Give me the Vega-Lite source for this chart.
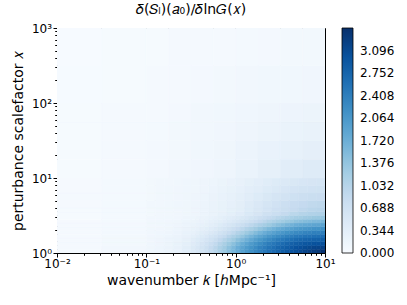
{
"$schema": "https://vega.github.io/schema/vega-lite/v6.json",
"width": 268, "height": 225,
"autosize": "none",
"padding": {"left": 57, "top": 28, "right": 82, "bottom": 52},
"config": {"view": {"stroke": "#000", "strokeWidth": 1}, "font": "DejaVu Sans"},
"title": {"text": "𝛿(𝑆ₗ)(𝑎₀)/𝛿ln𝐺(𝑥)", "fontSize": 14, "fontWeight": "normal", "font": "DejaVu Sans", "anchor": "middle", "offset": 5, "color": "#000"},
"data": {"values": [
{"k0":0.01,"k1":0.031623,"a0":1,"a1":1.122,"v":0.051},{"k0":0.031623,"k1":0.1,"a0":1,"a1":1.122,"v":0.096},{"k0":0.1,"k1":0.12589,"a0":1,"a1":1.122,"v":0.14},{"k0":0.12589,"k1":0.15849,"a0":1,"a1":1.122,"v":0.171},{"k0":0.15849,"k1":0.19953,"a0":1,"a1":1.122,"v":0.216},{"k0":0.19953,"k1":0.25119,"a0":1,"a1":1.122,"v":0.278},{"k0":0.25119,"k1":0.31623,"a0":1,"a1":1.122,"v":0.38},
{"k0":0.31623,"k1":0.35481,"a0":1,"a1":1.122,"v":0.48},{"k0":0.35481,"k1":0.39811,"a0":1,"a1":1.122,"v":0.56},{"k0":0.39811,"k1":0.44668,"a0":1,"a1":1.122,"v":0.65},{"k0":0.44668,"k1":0.50119,"a0":1,"a1":1.122,"v":0.76},{"k0":0.50119,"k1":0.56234,"a0":1,"a1":1.122,"v":0.89},{"k0":0.56234,"k1":0.63096,"a0":1,"a1":1.122,"v":1.01},{"k0":0.63096,"k1":0.70795,"a0":1,"a1":1.122,"v":1.16},{"k0":0.70795,"k1":0.79433,"a0":1,"a1":1.122,"v":1.31},{"k0":0.79433,"k1":0.89125,"a0":1,"a1":1.122,"v":1.47},{"k0":0.89125,"k1":1,"a0":1,"a1":1.122,"v":1.62},{"k0":1,"k1":1.122,"a0":1,"a1":1.122,"v":1.78},{"k0":1.122,"k1":1.2589,"a0":1,"a1":1.122,"v":1.92},{"k0":1.2589,"k1":1.4125,"a0":1,"a1":1.122,"v":2.05},{"k0":1.4125,"k1":1.5849,"a0":1,"a1":1.122,"v":2.18},{"k0":1.5849,"k1":1.7783,"a0":1,"a1":1.122,"v":2.29},{"k0":1.7783,"k1":1.9953,"a0":1,"a1":1.122,"v":2.39},{"k0":1.9953,"k1":2.2387,"a0":1,"a1":1.122,"v":2.49},{"k0":2.2387,"k1":2.5119,"a0":1,"a1":1.122,"v":2.58},{"k0":2.5119,"k1":2.8184,"a0":1,"a1":1.122,"v":2.67},{"k0":2.8184,"k1":3.1623,"a0":1,"a1":1.122,"v":2.75},{"k0":3.1623,"k1":3.5481,"a0":1,"a1":1.122,"v":2.84},{"k0":3.5481,"k1":3.9811,"a0":1,"a1":1.122,"v":2.90},{"k0":3.9811,"k1":4.4668,"a0":1,"a1":1.122,"v":2.98},{"k0":4.4668,"k1":5.0119,"a0":1,"a1":1.122,"v":3.04},{"k0":5.0119,"k1":5.6234,"a0":1,"a1":1.122,"v":3.10},{"k0":5.6234,"k1":6.3096,"a0":1,"a1":1.122,"v":3.17},{"k0":6.3096,"k1":7.0795,"a0":1,"a1":1.122,"v":3.23},{"k0":7.0795,"k1":7.9433,"a0":1,"a1":1.122,"v":3.28},{"k0":7.9433,"k1":8.9125,"a0":1,"a1":1.122,"v":3.34},{"k0":8.9125,"k1":10,"a0":1,"a1":1.122,"v":3.40},
{"k0":0.01,"k1":0.031623,"a0":1.122,"a1":1.2589,"v":0.051},{"k0":0.031623,"k1":0.1,"a0":1.122,"a1":1.2589,"v":0.095},{"k0":0.1,"k1":0.12589,"a0":1.122,"a1":1.2589,"v":0.14},{"k0":0.12589,"k1":0.15849,"a0":1.122,"a1":1.2589,"v":0.165},{"k0":0.15849,"k1":0.19953,"a0":1.122,"a1":1.2589,"v":0.209},{"k0":0.19953,"k1":0.25119,"a0":1.122,"a1":1.2589,"v":0.266},{"k0":0.25119,"k1":0.31623,"a0":1.122,"a1":1.2589,"v":0.356},
{"k0":0.31623,"k1":0.35481,"a0":1.122,"a1":1.2589,"v":0.46},{"k0":0.35481,"k1":0.39811,"a0":1.122,"a1":1.2589,"v":0.54},{"k0":0.39811,"k1":0.44668,"a0":1.122,"a1":1.2589,"v":0.62},{"k0":0.44668,"k1":0.50119,"a0":1.122,"a1":1.2589,"v":0.73},{"k0":0.50119,"k1":0.56234,"a0":1.122,"a1":1.2589,"v":0.85},{"k0":0.56234,"k1":0.63096,"a0":1.122,"a1":1.2589,"v":0.98},{"k0":0.63096,"k1":0.70795,"a0":1.122,"a1":1.2589,"v":1.12},{"k0":0.70795,"k1":0.79433,"a0":1.122,"a1":1.2589,"v":1.26},{"k0":0.79433,"k1":0.89125,"a0":1.122,"a1":1.2589,"v":1.42},{"k0":0.89125,"k1":1,"a0":1.122,"a1":1.2589,"v":1.57},{"k0":1,"k1":1.122,"a0":1.122,"a1":1.2589,"v":1.73},{"k0":1.122,"k1":1.2589,"a0":1.122,"a1":1.2589,"v":1.87},{"k0":1.2589,"k1":1.4125,"a0":1.122,"a1":1.2589,"v":2.00},{"k0":1.4125,"k1":1.5849,"a0":1.122,"a1":1.2589,"v":2.12},{"k0":1.5849,"k1":1.7783,"a0":1.122,"a1":1.2589,"v":2.23},{"k0":1.7783,"k1":1.9953,"a0":1.122,"a1":1.2589,"v":2.34},{"k0":1.9953,"k1":2.2387,"a0":1.122,"a1":1.2589,"v":2.44},{"k0":2.2387,"k1":2.5119,"a0":1.122,"a1":1.2589,"v":2.53},{"k0":2.5119,"k1":2.8184,"a0":1.122,"a1":1.2589,"v":2.61},{"k0":2.8184,"k1":3.1623,"a0":1.122,"a1":1.2589,"v":2.70},{"k0":3.1623,"k1":3.5481,"a0":1.122,"a1":1.2589,"v":2.78},{"k0":3.5481,"k1":3.9811,"a0":1.122,"a1":1.2589,"v":2.84},{"k0":3.9811,"k1":4.4668,"a0":1.122,"a1":1.2589,"v":2.91},{"k0":4.4668,"k1":5.0119,"a0":1.122,"a1":1.2589,"v":2.98},{"k0":5.0119,"k1":5.6234,"a0":1.122,"a1":1.2589,"v":3.03},{"k0":5.6234,"k1":6.3096,"a0":1.122,"a1":1.2589,"v":3.08},{"k0":6.3096,"k1":7.0795,"a0":1.122,"a1":1.2589,"v":3.12},{"k0":7.0795,"k1":7.9433,"a0":1.122,"a1":1.2589,"v":3.16},{"k0":7.9433,"k1":8.9125,"a0":1.122,"a1":1.2589,"v":3.18},{"k0":8.9125,"k1":10,"a0":1.122,"a1":1.2589,"v":3.20},
{"k0":0.01,"k1":0.031623,"a0":1.2589,"a1":1.4125,"v":0.05},{"k0":0.031623,"k1":0.1,"a0":1.2589,"a1":1.4125,"v":0.093},{"k0":0.1,"k1":0.12589,"a0":1.2589,"a1":1.4125,"v":0.132},{"k0":0.12589,"k1":0.15849,"a0":1.2589,"a1":1.4125,"v":0.158},{"k0":0.15849,"k1":0.19953,"a0":1.2589,"a1":1.4125,"v":0.197},{"k0":0.19953,"k1":0.25119,"a0":1.2589,"a1":1.4125,"v":0.252},{"k0":0.25119,"k1":0.31623,"a0":1.2589,"a1":1.4125,"v":0.328},
{"k0":0.31623,"k1":0.35481,"a0":1.2589,"a1":1.4125,"v":0.42},{"k0":0.35481,"k1":0.39811,"a0":1.2589,"a1":1.4125,"v":0.49},{"k0":0.39811,"k1":0.44668,"a0":1.2589,"a1":1.4125,"v":0.58},{"k0":0.44668,"k1":0.50119,"a0":1.2589,"a1":1.4125,"v":0.66},{"k0":0.50119,"k1":0.56234,"a0":1.2589,"a1":1.4125,"v":0.77},{"k0":0.56234,"k1":0.63096,"a0":1.2589,"a1":1.4125,"v":0.89},{"k0":0.63096,"k1":0.70795,"a0":1.2589,"a1":1.4125,"v":1.03},{"k0":0.70795,"k1":0.79433,"a0":1.2589,"a1":1.4125,"v":1.16},{"k0":0.79433,"k1":0.89125,"a0":1.2589,"a1":1.4125,"v":1.31},{"k0":0.89125,"k1":1,"a0":1.2589,"a1":1.4125,"v":1.45},{"k0":1,"k1":1.122,"a0":1.2589,"a1":1.4125,"v":1.60},{"k0":1.122,"k1":1.2589,"a0":1.2589,"a1":1.4125,"v":1.75},{"k0":1.2589,"k1":1.4125,"a0":1.2589,"a1":1.4125,"v":1.88},{"k0":1.4125,"k1":1.5849,"a0":1.2589,"a1":1.4125,"v":2.01},{"k0":1.5849,"k1":1.7783,"a0":1.2589,"a1":1.4125,"v":2.12},{"k0":1.7783,"k1":1.9953,"a0":1.2589,"a1":1.4125,"v":2.23},{"k0":1.9953,"k1":2.2387,"a0":1.2589,"a1":1.4125,"v":2.33},{"k0":2.2387,"k1":2.5119,"a0":1.2589,"a1":1.4125,"v":2.42},{"k0":2.5119,"k1":2.8184,"a0":1.2589,"a1":1.4125,"v":2.50},{"k0":2.8184,"k1":3.1623,"a0":1.2589,"a1":1.4125,"v":2.58},{"k0":3.1623,"k1":3.5481,"a0":1.2589,"a1":1.4125,"v":2.66},{"k0":3.5481,"k1":3.9811,"a0":1.2589,"a1":1.4125,"v":2.73},{"k0":3.9811,"k1":4.4668,"a0":1.2589,"a1":1.4125,"v":2.79},{"k0":4.4668,"k1":5.0119,"a0":1.2589,"a1":1.4125,"v":2.84},{"k0":5.0119,"k1":5.6234,"a0":1.2589,"a1":1.4125,"v":2.89},{"k0":5.6234,"k1":6.3096,"a0":1.2589,"a1":1.4125,"v":2.93},{"k0":6.3096,"k1":7.0795,"a0":1.2589,"a1":1.4125,"v":2.96},{"k0":7.0795,"k1":7.9433,"a0":1.2589,"a1":1.4125,"v":2.99},{"k0":7.9433,"k1":8.9125,"a0":1.2589,"a1":1.4125,"v":3.01},{"k0":8.9125,"k1":10,"a0":1.2589,"a1":1.4125,"v":3.02},
{"k0":0.01,"k1":0.031623,"a0":1.4125,"a1":1.5849,"v":0.049},{"k0":0.031623,"k1":0.1,"a0":1.4125,"a1":1.5849,"v":0.09},{"k0":0.1,"k1":0.12589,"a0":1.4125,"a1":1.5849,"v":0.127},{"k0":0.12589,"k1":0.15849,"a0":1.4125,"a1":1.5849,"v":0.148},{"k0":0.15849,"k1":0.19953,"a0":1.4125,"a1":1.5849,"v":0.183},{"k0":0.19953,"k1":0.25119,"a0":1.4125,"a1":1.5849,"v":0.227},{"k0":0.25119,"k1":0.31623,"a0":1.4125,"a1":1.5849,"v":0.296},
{"k0":0.31623,"k1":0.35481,"a0":1.4125,"a1":1.5849,"v":0.38},{"k0":0.35481,"k1":0.39811,"a0":1.4125,"a1":1.5849,"v":0.44},{"k0":0.39811,"k1":0.44668,"a0":1.4125,"a1":1.5849,"v":0.50},{"k0":0.44668,"k1":0.50119,"a0":1.4125,"a1":1.5849,"v":0.59},{"k0":0.50119,"k1":0.56234,"a0":1.4125,"a1":1.5849,"v":0.67},{"k0":0.56234,"k1":0.63096,"a0":1.4125,"a1":1.5849,"v":0.78},{"k0":0.63096,"k1":0.70795,"a0":1.4125,"a1":1.5849,"v":0.90},{"k0":0.70795,"k1":0.79433,"a0":1.4125,"a1":1.5849,"v":1.03},{"k0":0.79433,"k1":0.89125,"a0":1.4125,"a1":1.5849,"v":1.15},{"k0":0.89125,"k1":1,"a0":1.4125,"a1":1.5849,"v":1.28},{"k0":1,"k1":1.122,"a0":1.4125,"a1":1.5849,"v":1.43},{"k0":1.122,"k1":1.2589,"a0":1.4125,"a1":1.5849,"v":1.56},{"k0":1.2589,"k1":1.4125,"a0":1.4125,"a1":1.5849,"v":1.69},{"k0":1.4125,"k1":1.5849,"a0":1.4125,"a1":1.5849,"v":1.83},{"k0":1.5849,"k1":1.7783,"a0":1.4125,"a1":1.5849,"v":1.95},{"k0":1.7783,"k1":1.9953,"a0":1.4125,"a1":1.5849,"v":2.06},{"k0":1.9953,"k1":2.2387,"a0":1.4125,"a1":1.5849,"v":2.17},{"k0":2.2387,"k1":2.5119,"a0":1.4125,"a1":1.5849,"v":2.25},{"k0":2.5119,"k1":2.8184,"a0":1.4125,"a1":1.5849,"v":2.34},{"k0":2.8184,"k1":3.1623,"a0":1.4125,"a1":1.5849,"v":2.42},{"k0":3.1623,"k1":3.5481,"a0":1.4125,"a1":1.5849,"v":2.49},{"k0":3.5481,"k1":3.9811,"a0":1.4125,"a1":1.5849,"v":2.55},{"k0":3.9811,"k1":4.4668,"a0":1.4125,"a1":1.5849,"v":2.61},{"k0":4.4668,"k1":5.0119,"a0":1.4125,"a1":1.5849,"v":2.66},{"k0":5.0119,"k1":5.6234,"a0":1.4125,"a1":1.5849,"v":2.71},{"k0":5.6234,"k1":6.3096,"a0":1.4125,"a1":1.5849,"v":2.74},{"k0":6.3096,"k1":7.0795,"a0":1.4125,"a1":1.5849,"v":2.77},{"k0":7.0795,"k1":7.9433,"a0":1.4125,"a1":1.5849,"v":2.79},{"k0":7.9433,"k1":8.9125,"a0":1.4125,"a1":1.5849,"v":2.80},{"k0":8.9125,"k1":10,"a0":1.4125,"a1":1.5849,"v":2.82},
{"k0":0.01,"k1":0.031623,"a0":1.5849,"a1":1.7783,"v":0.048},{"k0":0.031623,"k1":0.1,"a0":1.5849,"a1":1.7783,"v":0.086},{"k0":0.1,"k1":0.12589,"a0":1.5849,"a1":1.7783,"v":0.122},{"k0":0.12589,"k1":0.15849,"a0":1.5849,"a1":1.7783,"v":0.14},{"k0":0.15849,"k1":0.19953,"a0":1.5849,"a1":1.7783,"v":0.17},{"k0":0.19953,"k1":0.25119,"a0":1.5849,"a1":1.7783,"v":0.209},{"k0":0.25119,"k1":0.31623,"a0":1.5849,"a1":1.7783,"v":0.265},
{"k0":0.31623,"k1":0.35481,"a0":1.5849,"a1":1.7783,"v":0.32},{"k0":0.35481,"k1":0.39811,"a0":1.5849,"a1":1.7783,"v":0.37},{"k0":0.39811,"k1":0.44668,"a0":1.5849,"a1":1.7783,"v":0.44},{"k0":0.44668,"k1":0.50119,"a0":1.5849,"a1":1.7783,"v":0.50},{"k0":0.50119,"k1":0.56234,"a0":1.5849,"a1":1.7783,"v":0.59},{"k0":0.56234,"k1":0.63096,"a0":1.5849,"a1":1.7783,"v":0.67},{"k0":0.63096,"k1":0.70795,"a0":1.5849,"a1":1.7783,"v":0.77},{"k0":0.70795,"k1":0.79433,"a0":1.5849,"a1":1.7783,"v":0.87},{"k0":0.79433,"k1":0.89125,"a0":1.5849,"a1":1.7783,"v":1.00},{"k0":0.89125,"k1":1,"a0":1.5849,"a1":1.7783,"v":1.13},{"k0":1,"k1":1.122,"a0":1.5849,"a1":1.7783,"v":1.24},{"k0":1.122,"k1":1.2589,"a0":1.5849,"a1":1.7783,"v":1.37},{"k0":1.2589,"k1":1.4125,"a0":1.5849,"a1":1.7783,"v":1.50},{"k0":1.4125,"k1":1.5849,"a0":1.5849,"a1":1.7783,"v":1.63},{"k0":1.5849,"k1":1.7783,"a0":1.5849,"a1":1.7783,"v":1.75},{"k0":1.7783,"k1":1.9953,"a0":1.5849,"a1":1.7783,"v":1.86},{"k0":1.9953,"k1":2.2387,"a0":1.5849,"a1":1.7783,"v":1.97},{"k0":2.2387,"k1":2.5119,"a0":1.5849,"a1":1.7783,"v":2.07},{"k0":2.5119,"k1":2.8184,"a0":1.5849,"a1":1.7783,"v":2.16},{"k0":2.8184,"k1":3.1623,"a0":1.5849,"a1":1.7783,"v":2.23},{"k0":3.1623,"k1":3.5481,"a0":1.5849,"a1":1.7783,"v":2.30},{"k0":3.5481,"k1":3.9811,"a0":1.5849,"a1":1.7783,"v":2.37},{"k0":3.9811,"k1":4.4668,"a0":1.5849,"a1":1.7783,"v":2.42},{"k0":4.4668,"k1":5.0119,"a0":1.5849,"a1":1.7783,"v":2.47},{"k0":5.0119,"k1":5.6234,"a0":1.5849,"a1":1.7783,"v":2.51},{"k0":5.6234,"k1":6.3096,"a0":1.5849,"a1":1.7783,"v":2.55},{"k0":6.3096,"k1":7.0795,"a0":1.5849,"a1":1.7783,"v":2.57},{"k0":7.0795,"k1":7.9433,"a0":1.5849,"a1":1.7783,"v":2.59},{"k0":7.9433,"k1":8.9125,"a0":1.5849,"a1":1.7783,"v":2.61},{"k0":8.9125,"k1":10,"a0":1.5849,"a1":1.7783,"v":2.63},
{"k0":0.01,"k1":0.031623,"a0":1.7783,"a1":1.9953,"v":0.046},{"k0":0.031623,"k1":0.1,"a0":1.7783,"a1":1.9953,"v":0.08},{"k0":0.1,"k1":0.12589,"a0":1.7783,"a1":1.9953,"v":0.117},{"k0":0.12589,"k1":0.15849,"a0":1.7783,"a1":1.9953,"v":0.13},{"k0":0.15849,"k1":0.19953,"a0":1.7783,"a1":1.9953,"v":0.154},{"k0":0.19953,"k1":0.25119,"a0":1.7783,"a1":1.9953,"v":0.188},{"k0":0.25119,"k1":0.31623,"a0":1.7783,"a1":1.9953,"v":0.234},
{"k0":0.31623,"k1":0.35481,"a0":1.7783,"a1":1.9953,"v":0.28},{"k0":0.35481,"k1":0.39811,"a0":1.7783,"a1":1.9953,"v":0.32},{"k0":0.39811,"k1":0.44668,"a0":1.7783,"a1":1.9953,"v":0.37},{"k0":0.44668,"k1":0.50119,"a0":1.7783,"a1":1.9953,"v":0.42},{"k0":0.50119,"k1":0.56234,"a0":1.7783,"a1":1.9953,"v":0.49},{"k0":0.56234,"k1":0.63096,"a0":1.7783,"a1":1.9953,"v":0.56},{"k0":0.63096,"k1":0.70795,"a0":1.7783,"a1":1.9953,"v":0.64},{"k0":0.70795,"k1":0.79433,"a0":1.7783,"a1":1.9953,"v":0.73},{"k0":0.79433,"k1":0.89125,"a0":1.7783,"a1":1.9953,"v":0.83},{"k0":0.89125,"k1":1,"a0":1.7783,"a1":1.9953,"v":0.93},{"k0":1,"k1":1.122,"a0":1.7783,"a1":1.9953,"v":1.05},{"k0":1.122,"k1":1.2589,"a0":1.7783,"a1":1.9953,"v":1.16},{"k0":1.2589,"k1":1.4125,"a0":1.7783,"a1":1.9953,"v":1.28},{"k0":1.4125,"k1":1.5849,"a0":1.7783,"a1":1.9953,"v":1.39},{"k0":1.5849,"k1":1.7783,"a0":1.7783,"a1":1.9953,"v":1.51},{"k0":1.7783,"k1":1.9953,"a0":1.7783,"a1":1.9953,"v":1.62},{"k0":1.9953,"k1":2.2387,"a0":1.7783,"a1":1.9953,"v":1.73},{"k0":2.2387,"k1":2.5119,"a0":1.7783,"a1":1.9953,"v":1.82},{"k0":2.5119,"k1":2.8184,"a0":1.7783,"a1":1.9953,"v":1.92},{"k0":2.8184,"k1":3.1623,"a0":1.7783,"a1":1.9953,"v":2.00},{"k0":3.1623,"k1":3.5481,"a0":1.7783,"a1":1.9953,"v":2.07},{"k0":3.5481,"k1":3.9811,"a0":1.7783,"a1":1.9953,"v":2.14},{"k0":3.9811,"k1":4.4668,"a0":1.7783,"a1":1.9953,"v":2.19},{"k0":4.4668,"k1":5.0119,"a0":1.7783,"a1":1.9953,"v":2.24},{"k0":5.0119,"k1":5.6234,"a0":1.7783,"a1":1.9953,"v":2.28},{"k0":5.6234,"k1":6.3096,"a0":1.7783,"a1":1.9953,"v":2.32},{"k0":6.3096,"k1":7.0795,"a0":1.7783,"a1":1.9953,"v":2.35},{"k0":7.0795,"k1":7.9433,"a0":1.7783,"a1":1.9953,"v":2.38},{"k0":7.9433,"k1":8.9125,"a0":1.7783,"a1":1.9953,"v":2.38},{"k0":8.9125,"k1":10,"a0":1.7783,"a1":1.9953,"v":2.40},
{"k0":0.01,"k1":0.031623,"a0":1.9953,"a1":2.2387,"v":0.045},{"k0":0.031623,"k1":0.1,"a0":1.9953,"a1":2.2387,"v":0.077},{"k0":0.1,"k1":0.12589,"a0":1.9953,"a1":2.2387,"v":0.112},{"k0":0.12589,"k1":0.15849,"a0":1.9953,"a1":2.2387,"v":0.124},{"k0":0.15849,"k1":0.19953,"a0":1.9953,"a1":2.2387,"v":0.14},{"k0":0.19953,"k1":0.25119,"a0":1.9953,"a1":2.2387,"v":0.171},{"k0":0.25119,"k1":0.31623,"a0":1.9953,"a1":2.2387,"v":0.209},
{"k0":0.31623,"k1":0.35481,"a0":1.9953,"a1":2.2387,"v":0.25},{"k0":0.35481,"k1":0.39811,"a0":1.9953,"a1":2.2387,"v":0.28},{"k0":0.39811,"k1":0.44668,"a0":1.9953,"a1":2.2387,"v":0.31},{"k0":0.44668,"k1":0.50119,"a0":1.9953,"a1":2.2387,"v":0.355},{"k0":0.50119,"k1":0.56234,"a0":1.9953,"a1":2.2387,"v":0.40},{"k0":0.56234,"k1":0.63096,"a0":1.9953,"a1":2.2387,"v":0.46},{"k0":0.63096,"k1":0.70795,"a0":1.9953,"a1":2.2387,"v":0.52},{"k0":0.70795,"k1":0.79433,"a0":1.9953,"a1":2.2387,"v":0.59},{"k0":0.79433,"k1":0.89125,"a0":1.9953,"a1":2.2387,"v":0.68},{"k0":0.89125,"k1":1,"a0":1.9953,"a1":2.2387,"v":0.77},{"k0":1,"k1":1.122,"a0":1.9953,"a1":2.2387,"v":0.86},{"k0":1.122,"k1":1.2589,"a0":1.9953,"a1":2.2387,"v":0.96},{"k0":1.2589,"k1":1.4125,"a0":1.9953,"a1":2.2387,"v":1.06},{"k0":1.4125,"k1":1.5849,"a0":1.9953,"a1":2.2387,"v":1.16},{"k0":1.5849,"k1":1.7783,"a0":1.9953,"a1":2.2387,"v":1.26},{"k0":1.7783,"k1":1.9953,"a0":1.9953,"a1":2.2387,"v":1.37},{"k0":1.9953,"k1":2.2387,"a0":1.9953,"a1":2.2387,"v":1.47},{"k0":2.2387,"k1":2.5119,"a0":1.9953,"a1":2.2387,"v":1.57},{"k0":2.5119,"k1":2.8184,"a0":1.9953,"a1":2.2387,"v":1.66},{"k0":2.8184,"k1":3.1623,"a0":1.9953,"a1":2.2387,"v":1.74},{"k0":3.1623,"k1":3.5481,"a0":1.9953,"a1":2.2387,"v":1.81},{"k0":3.5481,"k1":3.9811,"a0":1.9953,"a1":2.2387,"v":1.88},{"k0":3.9811,"k1":4.4668,"a0":1.9953,"a1":2.2387,"v":1.94},{"k0":4.4668,"k1":5.0119,"a0":1.9953,"a1":2.2387,"v":1.99},{"k0":5.0119,"k1":5.6234,"a0":1.9953,"a1":2.2387,"v":2.04},{"k0":5.6234,"k1":6.3096,"a0":1.9953,"a1":2.2387,"v":2.07},{"k0":6.3096,"k1":7.0795,"a0":1.9953,"a1":2.2387,"v":2.10},{"k0":7.0795,"k1":7.9433,"a0":1.9953,"a1":2.2387,"v":2.13},{"k0":7.9433,"k1":8.9125,"a0":1.9953,"a1":2.2387,"v":2.14},{"k0":8.9125,"k1":10,"a0":1.9953,"a1":2.2387,"v":2.16},
{"k0":0.01,"k1":0.031623,"a0":2.2387,"a1":2.5119,"v":0.044},{"k0":0.031623,"k1":0.1,"a0":2.2387,"a1":2.5119,"v":0.072},{"k0":0.1,"k1":0.12589,"a0":2.2387,"a1":2.5119,"v":0.108},{"k0":0.12589,"k1":0.15849,"a0":2.2387,"a1":2.5119,"v":0.118},{"k0":0.15849,"k1":0.19953,"a0":2.2387,"a1":2.5119,"v":0.132},{"k0":0.19953,"k1":0.25119,"a0":2.2387,"a1":2.5119,"v":0.153},{"k0":0.25119,"k1":0.31623,"a0":2.2387,"a1":2.5119,"v":0.186},
{"k0":0.31623,"k1":0.35481,"a0":2.2387,"a1":2.5119,"v":0.22},{"k0":0.35481,"k1":0.39811,"a0":2.2387,"a1":2.5119,"v":0.24},{"k0":0.39811,"k1":0.44668,"a0":2.2387,"a1":2.5119,"v":0.27},{"k0":0.44668,"k1":0.50119,"a0":2.2387,"a1":2.5119,"v":0.30},{"k0":0.50119,"k1":0.56234,"a0":2.2387,"a1":2.5119,"v":0.34},{"k0":0.56234,"k1":0.63096,"a0":2.2387,"a1":2.5119,"v":0.38},{"k0":0.63096,"k1":0.70795,"a0":2.2387,"a1":2.5119,"v":0.44},{"k0":0.70795,"k1":0.79433,"a0":2.2387,"a1":2.5119,"v":0.50},{"k0":0.79433,"k1":0.89125,"a0":2.2387,"a1":2.5119,"v":0.56},{"k0":0.89125,"k1":1,"a0":2.2387,"a1":2.5119,"v":0.62},{"k0":1,"k1":1.122,"a0":2.2387,"a1":2.5119,"v":0.71},{"k0":1.122,"k1":1.2589,"a0":2.2387,"a1":2.5119,"v":0.79},{"k0":1.2589,"k1":1.4125,"a0":2.2387,"a1":2.5119,"v":0.87},{"k0":1.4125,"k1":1.5849,"a0":2.2387,"a1":2.5119,"v":0.96},{"k0":1.5849,"k1":1.7783,"a0":2.2387,"a1":2.5119,"v":1.04},{"k0":1.7783,"k1":1.9953,"a0":2.2387,"a1":2.5119,"v":1.13},{"k0":1.9953,"k1":2.2387,"a0":2.2387,"a1":2.5119,"v":1.21},{"k0":2.2387,"k1":2.5119,"a0":2.2387,"a1":2.5119,"v":1.29},{"k0":2.5119,"k1":2.8184,"a0":2.2387,"a1":2.5119,"v":1.38},{"k0":2.8184,"k1":3.1623,"a0":2.2387,"a1":2.5119,"v":1.46},{"k0":3.1623,"k1":3.5481,"a0":2.2387,"a1":2.5119,"v":1.54},{"k0":3.5481,"k1":3.9811,"a0":2.2387,"a1":2.5119,"v":1.61},{"k0":3.9811,"k1":4.4668,"a0":2.2387,"a1":2.5119,"v":1.67},{"k0":4.4668,"k1":5.0119,"a0":2.2387,"a1":2.5119,"v":1.73},{"k0":5.0119,"k1":5.6234,"a0":2.2387,"a1":2.5119,"v":1.78},{"k0":5.6234,"k1":6.3096,"a0":2.2387,"a1":2.5119,"v":1.81},{"k0":6.3096,"k1":7.0795,"a0":2.2387,"a1":2.5119,"v":1.84},{"k0":7.0795,"k1":7.9433,"a0":2.2387,"a1":2.5119,"v":1.86},{"k0":7.9433,"k1":8.9125,"a0":2.2387,"a1":2.5119,"v":1.87},{"k0":8.9125,"k1":10,"a0":2.2387,"a1":2.5119,"v":1.89},
{"k0":0.01,"k1":0.031623,"a0":2.5119,"a1":2.8184,"v":0.041},{"k0":0.031623,"k1":0.1,"a0":2.5119,"a1":2.8184,"v":0.067},{"k0":0.1,"k1":0.12589,"a0":2.5119,"a1":2.8184,"v":0.101},{"k0":0.12589,"k1":0.15849,"a0":2.5119,"a1":2.8184,"v":0.113},{"k0":0.15849,"k1":0.19953,"a0":2.5119,"a1":2.8184,"v":0.122},{"k0":0.19953,"k1":0.25119,"a0":2.5119,"a1":2.8184,"v":0.14},{"k0":0.25119,"k1":0.31623,"a0":2.5119,"a1":2.8184,"v":0.165},
{"k0":0.31623,"k1":0.35481,"a0":2.5119,"a1":2.8184,"v":0.19},{"k0":0.35481,"k1":0.39811,"a0":2.5119,"a1":2.8184,"v":0.21},{"k0":0.39811,"k1":0.44668,"a0":2.5119,"a1":2.8184,"v":0.23},{"k0":0.44668,"k1":0.50119,"a0":2.5119,"a1":2.8184,"v":0.255},{"k0":0.50119,"k1":0.56234,"a0":2.5119,"a1":2.8184,"v":0.29},{"k0":0.56234,"k1":0.63096,"a0":2.5119,"a1":2.8184,"v":0.32},{"k0":0.63096,"k1":0.70795,"a0":2.5119,"a1":2.8184,"v":0.36},{"k0":0.70795,"k1":0.79433,"a0":2.5119,"a1":2.8184,"v":0.40},{"k0":0.79433,"k1":0.89125,"a0":2.5119,"a1":2.8184,"v":0.45},{"k0":0.89125,"k1":1,"a0":2.5119,"a1":2.8184,"v":0.50},{"k0":1,"k1":1.122,"a0":2.5119,"a1":2.8184,"v":0.56},{"k0":1.122,"k1":1.2589,"a0":2.5119,"a1":2.8184,"v":0.62},{"k0":1.2589,"k1":1.4125,"a0":2.5119,"a1":2.8184,"v":0.68},{"k0":1.4125,"k1":1.5849,"a0":2.5119,"a1":2.8184,"v":0.76},{"k0":1.5849,"k1":1.7783,"a0":2.5119,"a1":2.8184,"v":0.83},{"k0":1.7783,"k1":1.9953,"a0":2.5119,"a1":2.8184,"v":0.90},{"k0":1.9953,"k1":2.2387,"a0":2.5119,"a1":2.8184,"v":0.98},{"k0":2.2387,"k1":2.5119,"a0":2.5119,"a1":2.8184,"v":1.06},{"k0":2.5119,"k1":2.8184,"a0":2.5119,"a1":2.8184,"v":1.14},{"k0":2.8184,"k1":3.1623,"a0":2.5119,"a1":2.8184,"v":1.20},{"k0":3.1623,"k1":3.5481,"a0":2.5119,"a1":2.8184,"v":1.26},{"k0":3.5481,"k1":3.9811,"a0":2.5119,"a1":2.8184,"v":1.32},{"k0":3.9811,"k1":4.4668,"a0":2.5119,"a1":2.8184,"v":1.37},{"k0":4.4668,"k1":5.0119,"a0":2.5119,"a1":2.8184,"v":1.43},{"k0":5.0119,"k1":5.6234,"a0":2.5119,"a1":2.8184,"v":1.47},{"k0":5.6234,"k1":6.3096,"a0":2.5119,"a1":2.8184,"v":1.51},{"k0":6.3096,"k1":7.0795,"a0":2.5119,"a1":2.8184,"v":1.54},{"k0":7.0795,"k1":7.9433,"a0":2.5119,"a1":2.8184,"v":1.57},{"k0":7.9433,"k1":8.9125,"a0":2.5119,"a1":2.8184,"v":1.58},{"k0":8.9125,"k1":10,"a0":2.5119,"a1":2.8184,"v":1.60},
{"k0":0.01,"k1":0.031623,"a0":2.8184,"a1":3.1623,"v":0.04},{"k0":0.031623,"k1":0.1,"a0":2.8184,"a1":3.1623,"v":0.064},{"k0":0.1,"k1":0.12589,"a0":2.8184,"a1":3.1623,"v":0.096},{"k0":0.12589,"k1":0.15849,"a0":2.8184,"a1":3.1623,"v":0.109},{"k0":0.15849,"k1":0.19953,"a0":2.8184,"a1":3.1623,"v":0.118},{"k0":0.19953,"k1":0.25119,"a0":2.8184,"a1":3.1623,"v":0.128},{"k0":0.25119,"k1":0.31623,"a0":2.8184,"a1":3.1623,"v":0.149},
{"k0":0.31623,"k1":0.35481,"a0":2.8184,"a1":3.1623,"v":0.17},{"k0":0.35481,"k1":0.39811,"a0":2.8184,"a1":3.1623,"v":0.19},{"k0":0.39811,"k1":0.44668,"a0":2.8184,"a1":3.1623,"v":0.205},{"k0":0.44668,"k1":0.50119,"a0":2.8184,"a1":3.1623,"v":0.22},{"k0":0.50119,"k1":0.56234,"a0":2.8184,"a1":3.1623,"v":0.24},{"k0":0.56234,"k1":0.63096,"a0":2.8184,"a1":3.1623,"v":0.27},{"k0":0.63096,"k1":0.70795,"a0":2.8184,"a1":3.1623,"v":0.305},{"k0":0.70795,"k1":0.79433,"a0":2.8184,"a1":3.1623,"v":0.34},{"k0":0.79433,"k1":0.89125,"a0":2.8184,"a1":3.1623,"v":0.37},{"k0":0.89125,"k1":1,"a0":2.8184,"a1":3.1623,"v":0.42},{"k0":1,"k1":1.122,"a0":2.8184,"a1":3.1623,"v":0.47},{"k0":1.122,"k1":1.2589,"a0":2.8184,"a1":3.1623,"v":0.52},{"k0":1.2589,"k1":1.4125,"a0":2.8184,"a1":3.1623,"v":0.56},{"k0":1.4125,"k1":1.5849,"a0":2.8184,"a1":3.1623,"v":0.62},{"k0":1.5849,"k1":1.7783,"a0":2.8184,"a1":3.1623,"v":0.68},{"k0":1.7783,"k1":1.9953,"a0":2.8184,"a1":3.1623,"v":0.74},{"k0":1.9953,"k1":2.2387,"a0":2.8184,"a1":3.1623,"v":0.80},{"k0":2.2387,"k1":2.5119,"a0":2.8184,"a1":3.1623,"v":0.86},{"k0":2.5119,"k1":2.8184,"a0":2.8184,"a1":3.1623,"v":0.92},{"k0":2.8184,"k1":3.1623,"a0":2.8184,"a1":3.1623,"v":0.98},{"k0":3.1623,"k1":3.5481,"a0":2.8184,"a1":3.1623,"v":1.04},{"k0":3.5481,"k1":3.9811,"a0":2.8184,"a1":3.1623,"v":1.09},{"k0":3.9811,"k1":4.4668,"a0":2.8184,"a1":3.1623,"v":1.15},{"k0":4.4668,"k1":5.0119,"a0":2.8184,"a1":3.1623,"v":1.19},{"k0":5.0119,"k1":5.6234,"a0":2.8184,"a1":3.1623,"v":1.22},{"k0":5.6234,"k1":6.3096,"a0":2.8184,"a1":3.1623,"v":1.26},{"k0":6.3096,"k1":7.0795,"a0":2.8184,"a1":3.1623,"v":1.28},{"k0":7.0795,"k1":7.9433,"a0":2.8184,"a1":3.1623,"v":1.31},{"k0":7.9433,"k1":8.9125,"a0":2.8184,"a1":3.1623,"v":1.32},{"k0":8.9125,"k1":10,"a0":2.8184,"a1":3.1623,"v":1.34},
{"k0":0.01,"k1":0.031623,"a0":3.1623,"a1":3.5481,"v":0.038},{"k0":0.031623,"k1":0.1,"a0":3.1623,"a1":3.5481,"v":0.061},{"k0":0.1,"k1":0.12589,"a0":3.1623,"a1":3.5481,"v":0.089},{"k0":0.12589,"k1":0.15849,"a0":3.1623,"a1":3.5481,"v":0.10},{"k0":0.15849,"k1":0.19953,"a0":3.1623,"a1":3.5481,"v":0.111},{"k0":0.19953,"k1":0.25119,"a0":3.1623,"a1":3.5481,"v":0.122},{"k0":0.25119,"k1":0.31623,"a0":3.1623,"a1":3.5481,"v":0.137},{"k0":0.31623,"k1":0.39811,"a0":3.1623,"a1":3.5481,"v":0.16},{"k0":0.39811,"k1":0.50119,"a0":3.1623,"a1":3.5481,"v":0.188},{"k0":0.50119,"k1":0.63096,"a0":3.1623,"a1":3.5481,"v":0.227},{"k0":0.63096,"k1":0.79433,"a0":3.1623,"a1":3.5481,"v":0.272},{"k0":0.79433,"k1":1,"a0":3.1623,"a1":3.5481,"v":0.328},{"k0":1,"k1":1.2589,"a0":3.1623,"a1":3.5481,"v":0.395},{"k0":1.2589,"k1":1.5849,"a0":3.1623,"a1":3.5481,"v":0.495},{"k0":1.5849,"k1":1.9953,"a0":3.1623,"a1":3.5481,"v":0.582},{"k0":1.9953,"k1":2.5119,"a0":3.1623,"a1":3.5481,"v":0.692},{"k0":2.5119,"k1":3.1623,"a0":3.1623,"a1":3.5481,"v":0.779},{"k0":3.1623,"k1":3.9811,"a0":3.1623,"a1":3.5481,"v":0.876},{"k0":3.9811,"k1":5.0119,"a0":3.1623,"a1":3.5481,"v":0.973},{"k0":5.0119,"k1":6.3096,"a0":3.1623,"a1":3.5481,"v":1.047},{"k0":6.3096,"k1":7.9433,"a0":3.1623,"a1":3.5481,"v":1.09},{"k0":7.9433,"k1":10,"a0":3.1623,"a1":3.5481,"v":1.11},
{"k0":0.01,"k1":0.031623,"a0":3.5481,"a1":3.9811,"v":0.04},{"k0":0.031623,"k1":0.1,"a0":3.5481,"a1":3.9811,"v":0.062},{"k0":0.1,"k1":0.12589,"a0":3.5481,"a1":3.9811,"v":0.09},{"k0":0.12589,"k1":0.15849,"a0":3.5481,"a1":3.9811,"v":0.101},{"k0":0.15849,"k1":0.19953,"a0":3.5481,"a1":3.9811,"v":0.112},{"k0":0.19953,"k1":0.25119,"a0":3.5481,"a1":3.9811,"v":0.123},{"k0":0.25119,"k1":0.31623,"a0":3.5481,"a1":3.9811,"v":0.135},{"k0":0.31623,"k1":0.39811,"a0":3.5481,"a1":3.9811,"v":0.155},{"k0":0.39811,"k1":0.50119,"a0":3.5481,"a1":3.9811,"v":0.182},{"k0":0.50119,"k1":0.63096,"a0":3.5481,"a1":3.9811,"v":0.216},{"k0":0.63096,"k1":0.79433,"a0":3.5481,"a1":3.9811,"v":0.25},{"k0":0.79433,"k1":1,"a0":3.5481,"a1":3.9811,"v":0.306},{"k0":1,"k1":1.2589,"a0":3.5481,"a1":3.9811,"v":0.362},{"k0":1.2589,"k1":1.5849,"a0":3.5481,"a1":3.9811,"v":0.44},{"k0":1.5849,"k1":1.9953,"a0":3.5481,"a1":3.9811,"v":0.528},{"k0":1.9953,"k1":2.5119,"a0":3.5481,"a1":3.9811,"v":0.616},{"k0":2.5119,"k1":3.1623,"a0":3.5481,"a1":3.9811,"v":0.714},{"k0":3.1623,"k1":3.9811,"a0":3.5481,"a1":3.9811,"v":0.79},{"k0":3.9811,"k1":5.0119,"a0":3.5481,"a1":3.9811,"v":0.865},{"k0":5.0119,"k1":6.3096,"a0":3.5481,"a1":3.9811,"v":0.929},{"k0":6.3096,"k1":7.9433,"a0":3.5481,"a1":3.9811,"v":0.983},{"k0":7.9433,"k1":10,"a0":3.5481,"a1":3.9811,"v":1.004},
{"k0":0.01,"k1":0.031623,"a0":3.9811,"a1":5.0119,"v":0.043},{"k0":0.031623,"k1":0.1,"a0":3.9811,"a1":5.0119,"v":0.066},{"k0":0.1,"k1":0.12589,"a0":3.9811,"a1":5.0119,"v":0.095},{"k0":0.12589,"k1":0.15849,"a0":3.9811,"a1":5.0119,"v":0.107},{"k0":0.15849,"k1":0.19953,"a0":3.9811,"a1":5.0119,"v":0.119},{"k0":0.19953,"k1":0.25119,"a0":3.9811,"a1":5.0119,"v":0.13},{"k0":0.25119,"k1":0.31623,"a0":3.9811,"a1":5.0119,"v":0.14},{"k0":0.31623,"k1":0.39811,"a0":3.9811,"a1":5.0119,"v":0.157},{"k0":0.39811,"k1":0.50119,"a0":3.9811,"a1":5.0119,"v":0.185},{"k0":0.50119,"k1":0.63096,"a0":3.9811,"a1":5.0119,"v":0.216},{"k0":0.63096,"k1":0.79433,"a0":3.9811,"a1":5.0119,"v":0.255},{"k0":0.79433,"k1":1,"a0":3.9811,"a1":5.0119,"v":0.294},{"k0":1,"k1":1.2589,"a0":3.9811,"a1":5.0119,"v":0.35},{"k0":1.2589,"k1":1.5849,"a0":3.9811,"a1":5.0119,"v":0.422},{"k0":1.5849,"k1":1.9953,"a0":3.9811,"a1":5.0119,"v":0.505},{"k0":1.9953,"k1":2.5119,"a0":3.9811,"a1":5.0119,"v":0.587},{"k0":2.5119,"k1":3.1623,"a0":3.9811,"a1":5.0119,"v":0.669},{"k0":3.1623,"k1":3.9811,"a0":3.9811,"a1":5.0119,"v":0.75},{"k0":3.9811,"k1":5.0119,"a0":3.9811,"a1":5.0119,"v":0.82},{"k0":5.0119,"k1":6.3096,"a0":3.9811,"a1":5.0119,"v":0.873},{"k0":6.3096,"k1":7.9433,"a0":3.9811,"a1":5.0119,"v":0.911},{"k0":7.9433,"k1":10,"a0":3.9811,"a1":5.0119,"v":0.938},
{"k0":0.01,"k1":0.031623,"a0":5.0119,"a1":6.3096,"v":0.045},{"k0":0.031623,"k1":0.1,"a0":5.0119,"a1":6.3096,"v":0.067},{"k0":0.1,"k1":0.12589,"a0":5.0119,"a1":6.3096,"v":0.093},{"k0":0.12589,"k1":0.15849,"a0":5.0119,"a1":6.3096,"v":0.105},{"k0":0.15849,"k1":0.19953,"a0":5.0119,"a1":6.3096,"v":0.117},{"k0":0.19953,"k1":0.25119,"a0":5.0119,"a1":6.3096,"v":0.129},{"k0":0.25119,"k1":0.31623,"a0":5.0119,"a1":6.3096,"v":0.141},{"k0":0.31623,"k1":0.39811,"a0":5.0119,"a1":6.3096,"v":0.154},{"k0":0.39811,"k1":0.50119,"a0":5.0119,"a1":6.3096,"v":0.174},{"k0":0.50119,"k1":0.63096,"a0":5.0119,"a1":6.3096,"v":0.203},{"k0":0.63096,"k1":0.79433,"a0":5.0119,"a1":6.3096,"v":0.236},{"k0":0.79433,"k1":1,"a0":5.0119,"a1":6.3096,"v":0.272},{"k0":1,"k1":1.2589,"a0":5.0119,"a1":6.3096,"v":0.323},{"k0":1.2589,"k1":1.5849,"a0":5.0119,"a1":6.3096,"v":0.375},{"k0":1.5849,"k1":1.9953,"a0":5.0119,"a1":6.3096,"v":0.44},{"k0":1.9953,"k1":2.5119,"a0":5.0119,"a1":6.3096,"v":0.512},{"k0":2.5119,"k1":3.1623,"a0":5.0119,"a1":6.3096,"v":0.583},{"k0":3.1623,"k1":3.9811,"a0":5.0119,"a1":6.3096,"v":0.64},{"k0":3.9811,"k1":5.0119,"a0":5.0119,"a1":6.3096,"v":0.71},{"k0":5.0119,"k1":6.3096,"a0":5.0119,"a1":6.3096,"v":0.752},{"k0":6.3096,"k1":7.9433,"a0":5.0119,"a1":6.3096,"v":0.78},{"k0":7.9433,"k1":10,"a0":5.0119,"a1":6.3096,"v":0.794},
{"k0":0.01,"k1":0.031623,"a0":6.3096,"a1":7.9433,"v":0.043},{"k0":0.031623,"k1":0.1,"a0":6.3096,"a1":7.9433,"v":0.065},{"k0":0.1,"k1":0.12589,"a0":6.3096,"a1":7.9433,"v":0.089},{"k0":0.12589,"k1":0.15849,"a0":6.3096,"a1":7.9433,"v":0.10},{"k0":0.15849,"k1":0.19953,"a0":6.3096,"a1":7.9433,"v":0.113},{"k0":0.19953,"k1":0.25119,"a0":6.3096,"a1":7.9433,"v":0.124},{"k0":0.25119,"k1":0.31623,"a0":6.3096,"a1":7.9433,"v":0.134},{"k0":0.31623,"k1":0.39811,"a0":6.3096,"a1":7.9433,"v":0.145},{"k0":0.39811,"k1":0.50119,"a0":6.3096,"a1":7.9433,"v":0.163},{"k0":0.50119,"k1":0.63096,"a0":6.3096,"a1":7.9433,"v":0.188},{"k0":0.63096,"k1":0.79433,"a0":6.3096,"a1":7.9433,"v":0.216},{"k0":0.79433,"k1":1,"a0":6.3096,"a1":7.9433,"v":0.251},{"k0":1,"k1":1.2589,"a0":6.3096,"a1":7.9433,"v":0.288},{"k0":1.2589,"k1":1.5849,"a0":6.3096,"a1":7.9433,"v":0.338},{"k0":1.5849,"k1":1.9953,"a0":6.3096,"a1":7.9433,"v":0.381},{"k0":1.9953,"k1":2.5119,"a0":6.3096,"a1":7.9433,"v":0.439},{"k0":2.5119,"k1":3.1623,"a0":6.3096,"a1":7.9433,"v":0.497},{"k0":3.1623,"k1":3.9811,"a0":6.3096,"a1":7.9433,"v":0.554},{"k0":3.9811,"k1":5.0119,"a0":6.3096,"a1":7.9433,"v":0.611},{"k0":5.0119,"k1":6.3096,"a0":6.3096,"a1":7.9433,"v":0.639},{"k0":6.3096,"k1":7.9433,"a0":6.3096,"a1":7.9433,"v":0.667},{"k0":7.9433,"k1":10,"a0":6.3096,"a1":7.9433,"v":0.681},
{"k0":0.01,"k1":0.031623,"a0":7.9433,"a1":10,"v":0.043},{"k0":0.031623,"k1":0.1,"a0":7.9433,"a1":10,"v":0.064},{"k0":0.1,"k1":0.12589,"a0":7.9433,"a1":10,"v":0.085},{"k0":0.12589,"k1":0.15849,"a0":7.9433,"a1":10,"v":0.098},{"k0":0.15849,"k1":0.19953,"a0":7.9433,"a1":10,"v":0.108},{"k0":0.19953,"k1":0.25119,"a0":7.9433,"a1":10,"v":0.12},{"k0":0.25119,"k1":0.31623,"a0":7.9433,"a1":10,"v":0.13},{"k0":0.31623,"k1":0.39811,"a0":7.9433,"a1":10,"v":0.141},{"k0":0.39811,"k1":0.50119,"a0":7.9433,"a1":10,"v":0.156},{"k0":0.50119,"k1":0.63096,"a0":7.9433,"a1":10,"v":0.174},{"k0":0.63096,"k1":0.79433,"a0":7.9433,"a1":10,"v":0.20},{"k0":0.79433,"k1":1,"a0":7.9433,"a1":10,"v":0.229},{"k0":1,"k1":1.2589,"a0":7.9433,"a1":10,"v":0.265},{"k0":1.2589,"k1":1.5849,"a0":7.9433,"a1":10,"v":0.302},{"k0":1.5849,"k1":1.9953,"a0":7.9433,"a1":10,"v":0.345},{"k0":1.9953,"k1":2.5119,"a0":7.9433,"a1":10,"v":0.388},{"k0":2.5119,"k1":3.1623,"a0":7.9433,"a1":10,"v":0.439},{"k0":3.1623,"k1":3.9811,"a0":7.9433,"a1":10,"v":0.481},{"k0":3.9811,"k1":5.0119,"a0":7.9433,"a1":10,"v":0.524},{"k0":5.0119,"k1":6.3096,"a0":7.9433,"a1":10,"v":0.552},{"k0":6.3096,"k1":7.9433,"a0":7.9433,"a1":10,"v":0.58},{"k0":7.9433,"k1":10,"a0":7.9433,"a1":10,"v":0.594},
{"k0":0.01,"k1":0.031623,"a0":10,"a1":17.783,"v":0.035},{"k0":0.031623,"k1":0.1,"a0":10,"a1":17.783,"v":0.055},{"k0":0.1,"k1":0.17783,"a0":10,"a1":17.783,"v":0.077},{"k0":0.17783,"k1":0.31623,"a0":10,"a1":17.783,"v":0.101},{"k0":0.31623,"k1":0.56234,"a0":10,"a1":17.783,"v":0.124},{"k0":0.56234,"k1":1,"a0":10,"a1":17.783,"v":0.163},{"k0":1,"k1":1.7783,"a0":10,"a1":17.783,"v":0.221},{"k0":1.7783,"k1":3.1623,"a0":10,"a1":17.783,"v":0.299},{"k0":3.1623,"k1":5.6234,"a0":10,"a1":17.783,"v":0.377},{"k0":5.6234,"k1":10,"a0":10,"a1":17.783,"v":0.429},
{"k0":0.01,"k1":0.031623,"a0":17.783,"a1":31.623,"v":0.034},{"k0":0.031623,"k1":0.1,"a0":17.783,"a1":31.623,"v":0.052},{"k0":0.1,"k1":0.17783,"a0":17.783,"a1":31.623,"v":0.069},{"k0":0.17783,"k1":0.31623,"a0":17.783,"a1":31.623,"v":0.092},{"k0":0.31623,"k1":0.56234,"a0":17.783,"a1":31.623,"v":0.114},{"k0":0.56234,"k1":1,"a0":17.783,"a1":31.623,"v":0.143},{"k0":1,"k1":1.7783,"a0":17.783,"a1":31.623,"v":0.182},{"k0":1.7783,"k1":3.1623,"a0":17.783,"a1":31.623,"v":0.234},{"k0":3.1623,"k1":5.6234,"a0":17.783,"a1":31.623,"v":0.28},{"k0":5.6234,"k1":10,"a0":17.783,"a1":31.623,"v":0.312},
{"k0":0.01,"k1":0.031623,"a0":31.623,"a1":56.234,"v":0.033},{"k0":0.031623,"k1":0.1,"a0":31.623,"a1":56.234,"v":0.048},{"k0":0.1,"k1":0.17783,"a0":31.623,"a1":56.234,"v":0.064},{"k0":0.17783,"k1":0.31623,"a0":31.623,"a1":56.234,"v":0.085},{"k0":0.31623,"k1":0.56234,"a0":31.623,"a1":56.234,"v":0.105},{"k0":0.56234,"k1":1,"a0":31.623,"a1":56.234,"v":0.125},{"k0":1,"k1":1.7783,"a0":31.623,"a1":56.234,"v":0.152},{"k0":1.7783,"k1":3.1623,"a0":31.623,"a1":56.234,"v":0.19},{"k0":3.1623,"k1":5.6234,"a0":31.623,"a1":56.234,"v":0.221},{"k0":5.6234,"k1":10,"a0":31.623,"a1":56.234,"v":0.247},
{"k0":0.01,"k1":0.031623,"a0":56.234,"a1":100,"v":0.031},{"k0":0.031623,"k1":0.1,"a0":56.234,"a1":100,"v":0.046},{"k0":0.1,"k1":0.17783,"a0":56.234,"a1":100,"v":0.06},{"k0":0.17783,"k1":0.31623,"a0":56.234,"a1":100,"v":0.075},{"k0":0.31623,"k1":0.56234,"a0":56.234,"a1":100,"v":0.095},{"k0":0.56234,"k1":1,"a0":56.234,"a1":100,"v":0.113},{"k0":1,"k1":1.7783,"a0":56.234,"a1":100,"v":0.13},{"k0":1.7783,"k1":3.1623,"a0":56.234,"a1":100,"v":0.153},{"k0":3.1623,"k1":5.6234,"a0":56.234,"a1":100,"v":0.179},{"k0":5.6234,"k1":10,"a0":56.234,"a1":100,"v":0.192},
{"k0":0.01,"k1":0.031623,"a0":100,"a1":316.23,"v":0.026},{"k0":0.031623,"k1":0.1,"a0":100,"a1":316.23,"v":0.036},{"k0":0.1,"k1":0.17783,"a0":100,"a1":316.23,"v":0.049},{"k0":0.17783,"k1":0.31623,"a0":100,"a1":316.23,"v":0.058},{"k0":0.31623,"k1":0.56234,"a0":100,"a1":316.23,"v":0.071},{"k0":0.56234,"k1":1,"a0":100,"a1":316.23,"v":0.086},{"k0":1,"k1":1.7783,"a0":100,"a1":316.23,"v":0.101},{"k0":1.7783,"k1":3.1623,"a0":100,"a1":316.23,"v":0.112},{"k0":3.1623,"k1":5.6234,"a0":100,"a1":316.23,"v":0.118},{"k0":5.6234,"k1":10,"a0":100,"a1":316.23,"v":0.124},
{"k0":0.01,"k1":0.031623,"a0":316.23,"a1":1000,"v":0.022},{"k0":0.031623,"k1":0.1,"a0":316.23,"a1":1000,"v":0.03},{"k0":0.1,"k1":0.17783,"a0":316.23,"a1":1000,"v":0.038},{"k0":0.17783,"k1":0.31623,"a0":316.23,"a1":1000,"v":0.045},{"k0":0.31623,"k1":0.56234,"a0":316.23,"a1":1000,"v":0.051},{"k0":0.56234,"k1":1,"a0":316.23,"a1":1000,"v":0.058},{"k0":1,"k1":1.7783,"a0":316.23,"a1":1000,"v":0.067},{"k0":1.7783,"k1":3.1623,"a0":316.23,"a1":1000,"v":0.076},{"k0":3.1623,"k1":5.6234,"a0":316.23,"a1":1000,"v":0.082},{"k0":5.6234,"k1":10,"a0":316.23,"a1":1000,"v":0.086}
]},
"mark": {"type": "rect", "clip": true, "strokeWidth": 0.5, "stroke": {"expr": "scale('color', datum.v)"}},
"encoding": {
  "x": {"field": "k0", "type": "quantitative",
    "scale": {"type": "log", "domain": [0.01, 10], "nice": false},
    "axis": {"title": "wavenumber 𝑘 [ℎMpc⁻¹]", "grid": false,
      "values": [0.01,0.02,0.03,0.04,0.05,0.06,0.07,0.08,0.09,0.1,0.2,0.3,0.4,0.5,0.6,0.7,0.8,0.9,1,2,3,4,5,6,7,8,9,10],
      "labelExpr": "datum.value == 0.01 ? '10⁻²' : datum.value == 0.1 ? '10⁻¹' : datum.value == 1 ? '10⁰' : datum.value == 10 ? '10¹' : ''",
      "tickSize": {"condition": {"test": "indexof([0.01,0.1,1,10], datum.value) >= 0", "value": 4}, "value": 2.3},
      "labelFontSize": 12, "titleFontSize": 14, "titleFontWeight": "normal", "labelFont": "DejaVu Sans", "titleFont": "DejaVu Sans",
      "labelColor": "#000", "titleColor": "#000", "domainColor": "#000", "tickColor": "#000",
      "labelFlush": false, "labelOverlap": false, "labelBound": false, "labelPadding": 1, "titlePadding": 4}},
  "x2": {"field": "k1"},
  "y": {"field": "a0", "type": "quantitative",
    "scale": {"type": "log", "domain": [1, 1000], "nice": false},
    "axis": {"title": "perturbance scalefactor 𝑥", "grid": false,
      "values": [1,2,3,4,5,6,7,8,9,10,20,30,40,50,60,70,80,90,100,200,300,400,500,600,700,800,900,1000],
      "labelExpr": "datum.value == 1 ? '10⁰' : datum.value == 10 ? '10¹' : datum.value == 100 ? '10²' : datum.value == 1000 ? '10³' : ''",
      "tickSize": {"condition": {"test": "indexof([1,10,100,1000], datum.value) >= 0", "value": 4}, "value": 2.3},
      "labelFontSize": 12, "titleFontSize": 14, "titleFontWeight": "normal", "labelFont": "DejaVu Sans", "titleFont": "DejaVu Sans",
      "labelColor": "#000", "titleColor": "#000", "domainColor": "#000", "tickColor": "#000",
      "labelFlush": false, "labelOverlap": false, "labelBound": false, "labelPadding": 1.5, "titlePadding": 6}},
  "y2": {"field": "a1"},
  "color": {"field": "v", "type": "quantitative",
    "scale": {"domain": [0,0.43,0.86,1.29,1.72,2.15,2.58,3.01,3.44], "range": ["#f7fbff","#deebf7","#c6dbef","#9ecae1","#6baed6","#4292c6","#2171b5","#08519c","#08306b"], "interpolate": "rgb", "clamp": true},
    "legend": {"type": "gradient", "title": null, "orient": "right", "offset": 17, "padding": 0, "direction": "vertical",
      "gradientLength": 225, "gradientThickness": 11, "gradientStrokeColor": "#000", "gradientStrokeWidth": 0.8,
      "values": [0.0001,0.344,0.688,1.032,1.376,1.72,2.064,2.408,2.752,3.096], "format": ".3f",
      "labelFontSize": 12, "labelFont": "DejaVu Sans", "labelColor": "#000", "labelOffset": 7, "labelOverlap": false}}
}
}
